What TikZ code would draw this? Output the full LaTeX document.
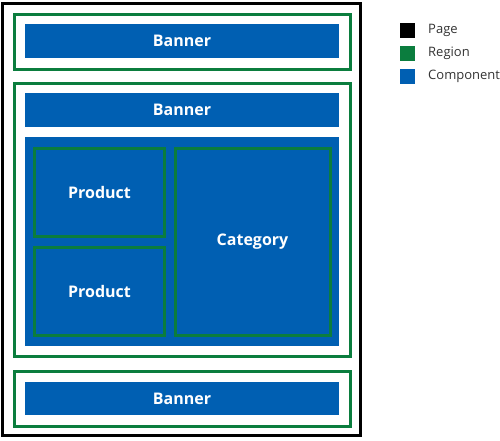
\documentclass[tikz,border=0pt]{standalone}
\usepackage{fontspec}
\setmainfont{Open Sans}
\definecolor{pageblack}{HTML}{000000}
\definecolor{regiongreen}{HTML}{0B7D3E}
\definecolor{compblue}{HTML}{005FB2}
\definecolor{keytext}{HTML}{333333}
\begin{document}
\begin{tikzpicture}[
    x=1pt, y=-1pt,
    every node/.style={align=center, inner sep=0pt},
    page box/.style={draw=pageblack, line width=3pt},
    region box/.style={draw=regiongreen, line width=3pt},
    comp box/.style={fill=compblue, text=white, font=\fontsize{16}{19}\selectfont\bfseries},
    inner region/.style={draw=regiongreen, line width=3pt, text=white, font=\fontsize{16}{19}\selectfont\bfseries},
    key box/.style={minimum width=15pt, minimum height=15pt},
    key label/.style={anchor=west, text=keytext, font=\fontsize{13}{15}\selectfont},
    ]
\useasboundingbox (0,0) rectangle (500,440);
\node[page box, minimum width=357.5pt, minimum height=432.5pt] (page) at (181.25,219.25) {};
\node[region box, minimum width=336pt, minimum height=55.5pt] (topRegion) at (182,41.75) {};
\node[comp box, minimum width=314pt, minimum height=34pt] (topBanner) at (182,41) {Banner};
\node[region box, minimum width=336pt, minimum height=273pt] (mainRegion) at (182,219.5) {};
\node[comp box, minimum width=314pt, minimum height=34pt] (mainBanner) at (182,110) {Banner};
\node[comp box, minimum width=314pt, minimum height=209pt] (mainBody) at (182,241.5) {};
\node[inner region, minimum width=130pt, minimum height=88pt] (productA) at (99.5,192.5) {Product};
\node[inner region, minimum width=130pt, minimum height=88pt] (productB) at (99.5,291.5) {Product};
\node[inner region, minimum width=155pt, minimum height=186.5pt] (category) at (252.5,241.75) {Category};
\node[region box, minimum width=336pt, minimum height=55pt] (footRegion) at (182,398.5) {};
\node[comp box, minimum width=314pt, minimum height=33pt] (footBanner) at (182,398.5) {Banner};
% legend
\node[key box, fill=pageblack] (keyPage) at (407.5,30.5) {};
\node[key box, fill=regiongreen] (keyRegion) at (407.5,53.5) {};
\node[key box, fill=compblue] (keyComp) at (407.5,76.5) {};
\node[key label] (pageLabel) at (428,30.5) {Page};
\node[key label] (regionLabel) at (428,53.5) {Region};
\node[key label] (compLabel) at (428,76.5) {Component};
\end{tikzpicture}
\end{document}
